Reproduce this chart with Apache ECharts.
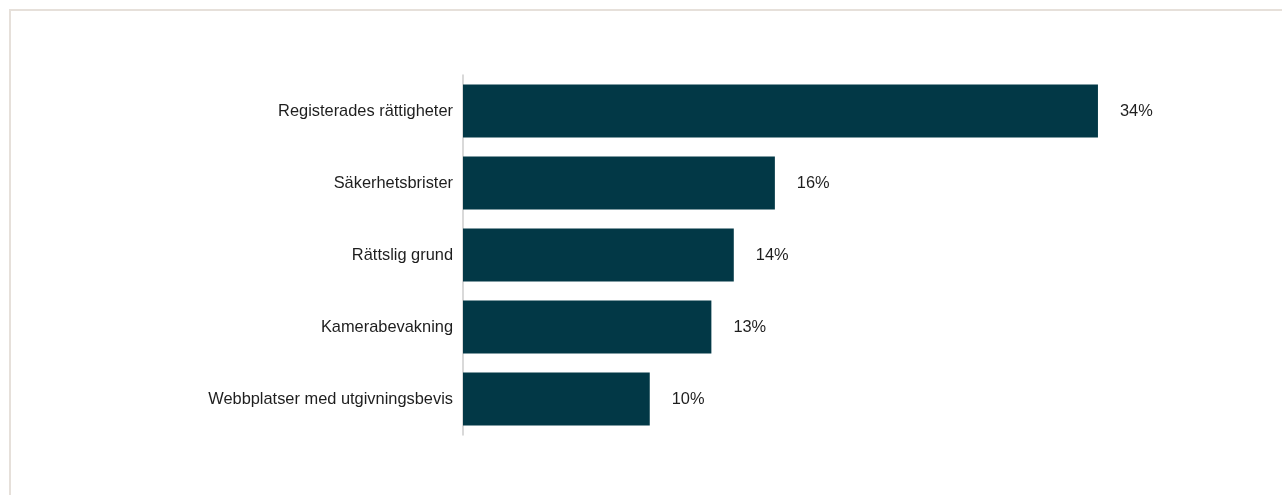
<!DOCTYPE html>
<html>
<head>
<meta charset="utf-8">
<script src="https://cdn.jsdelivr.net/npm/echarts@6/dist/echarts.min.js"></script>
<style>
  html, body { margin: 0; padding: 0; background: #fff; }
  #frame { position: absolute; left: 9px; top: 9px; width: 1273px; height: 486px; border-top: 2px solid #e6e0da; border-left: 2px solid #e6e0da; box-sizing: border-box; }
  #chart { position: absolute; left: 0; top: 0; width: 1282px; height: 495px; }
</style>
</head>
<body>
<div id="frame"></div>
<div id="chart"></div>
<script>
const categories = ["Registerades rättigheter", "Säkerhetsbrister", "Rättslig grund", "Kamerabevakning", "Webbplatser med utgivningsbevis"];
const values = [34, 16.7, 14.5, 13.3, 10];
const valueLabels = ["34%", "16%", "14%", "13%", "10%"];

const chart = echarts.init(document.getElementById('chart'), null, { renderer: 'canvas' });
chart.setOption({
  animation: false,
  grid: { left: 463, right: 72, top: 75, bottom: 60 },
  xAxis: {
    type: 'value', min: 0, max: 40, show: false
  },
  yAxis: {
    type: 'category', data: categories, inverse: true,
    axisLine: { show: true, lineStyle: { color: '#cccccc', width: 1.5 } },
    axisTick: { show: false },
    axisLabel: { color: '#1e1e1e', fontSize: 16.4, fontFamily: 'Liberation Sans, Arial, sans-serif', margin: 10 }
  },
  series: [{
    type: 'bar',
    data: values,
    barWidth: 53,
    itemStyle: { color: '#023846' },
    label: {
      show: true, position: 'right', distance: 22,
      color: '#1e1e1e', fontSize: 16.4, fontFamily: 'Liberation Sans, Arial, sans-serif',
      formatter: p => valueLabels[p.dataIndex]
    }
  }]
});
</script>
</body>
</html>
